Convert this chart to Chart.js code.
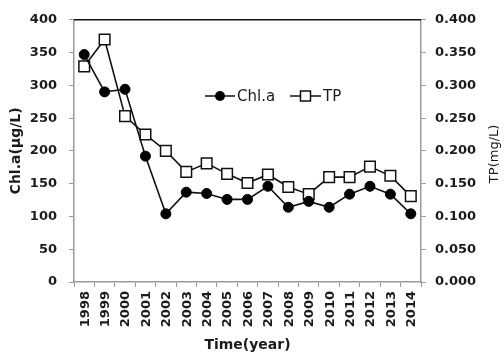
<!DOCTYPE html>
<html>
<head>
<meta charset="utf-8">
<script src="https://cdn.jsdelivr.net/npm/chart.js@4/dist/chart.umd.min.js"></script>
<style>
  body { margin: 0; background: #fff; }
  canvas { display: block; }
</style>
</head>
<body>
<canvas id="chart" width="504" height="356"></canvas>
<script>
// data
const years = ['1998', '1999', '2000', '2001', '2002', '2003', '2004', '2005', '2006',
  '2007', '2008', '2009', '2010', '2011', '2012', '2013', '2014'];
const chla = [347, 290, 294, 192, 104, 137, 135, 126, 126, 146, 114, 123, 114, 134, 146, 134, 104];
const tp = [0.329, 0.370, 0.253, 0.225, 0.200, 0.168, 0.181, 0.165, 0.151, 0.164, 0.145, 0.134,
  0.160, 0.160, 0.176, 0.162, 0.131];
const chlaTicks = [0, 50, 100, 150, 200, 250, 300, 350, 400];
const tpTicks = [0, 0.05, 0.1, 0.15, 0.2, 0.25, 0.3, 0.35, 0.4];

const FONT = '"DejaVu Sans", Verdana, sans-serif';
const TEXT = '#1b1b1b';
const AXIS = '#9a9a9a';

// top border, upright x labels (read upward), right axis title and the inline legend
const boxAndLegend = {
  id: 'boxAndLegend',
  afterDraw(chart) {
    const { ctx, chartArea } = chart;
    const xs = chart.scales.x;
    ctx.save();
    ctx.strokeStyle = '#111';
    ctx.lineWidth = 1.5;
    ctx.beginPath();
    ctx.moveTo(chartArea.left, chartArea.top);
    ctx.lineTo(chartArea.right, chartArea.top);
    ctx.stroke();

    // x tick labels, rotated to read bottom-to-top
    ctx.fillStyle = TEXT;
    ctx.font = 'bold 13px ' + FONT;
    ctx.textAlign = 'right';
    ctx.textBaseline = 'middle';
    years.forEach((yr, i) => {
      ctx.save();
      ctx.translate(xs.getPixelForTick(i) + 1, chartArea.bottom + 9);
      ctx.rotate(-Math.PI / 2);
      ctx.fillText(yr, 0, 0);
      ctx.restore();
    });

    // right axis title
    ctx.save();
    ctx.translate(495, (chartArea.top + chartArea.bottom) / 2 + 3);
    ctx.rotate(-Math.PI / 2);
    ctx.font = '13px ' + FONT;
    ctx.textAlign = 'center';
    ctx.fillText('TP(mg/L)', 0, 0);
    ctx.restore();

    const y = 96;
    ctx.lineWidth = 1.5;
    ctx.strokeStyle = '#111';
    // Chl.a
    ctx.beginPath();
    ctx.moveTo(205, y); ctx.lineTo(235, y);
    ctx.stroke();
    ctx.fillStyle = '#000';
    ctx.beginPath();
    ctx.arc(220, y, 5, 0, Math.PI * 2);
    ctx.fill();
    // TP
    ctx.beginPath();
    ctx.moveTo(290, y); ctx.lineTo(321, y);
    ctx.stroke();
    ctx.fillStyle = '#fff';
    ctx.fillRect(300.5, y - 5, 10, 10);
    ctx.strokeRect(300.5, y - 5, 10, 10);

    ctx.fillStyle = TEXT;
    ctx.font = '15px ' + FONT;
    ctx.textAlign = 'left';
    ctx.textBaseline = 'middle';
    ctx.fillText('Chl.a', 237, y + 1);
    ctx.fillText('TP', 323, y + 1);
    ctx.restore();
  }
};

new Chart(document.getElementById('chart'), {
  type: 'line',
  data: {
    labels: years,
    datasets: [
      {
        label: 'Chl.a',
        data: chla,
        yAxisID: 'y',
        borderColor: '#111',
        borderWidth: 1.6,
        backgroundColor: '#000',
        pointStyle: 'circle',
        pointRadius: 5,
        pointBorderWidth: 1,
        pointBackgroundColor: '#000',
        pointBorderColor: '#000',
        tension: 0
      },
      {
        label: 'TP',
        data: tp,
        yAxisID: 'y1',
        borderColor: '#111',
        borderWidth: 1.6,
        backgroundColor: '#fff',
        pointStyle: 'rect',
        pointRadius: 7.5,
        pointBorderWidth: 1.5,
        pointBackgroundColor: '#fff',
        pointBorderColor: '#111',
        tension: 0
      }
    ]
  },
  options: {
    responsive: false,
    animation: false,
    layout: { padding: { top: 17, right: 0, bottom: 0, left: 0 } },
    plugins: {
      legend: { display: false },
      tooltip: { enabled: false }
    },
    scales: {
      x: {
        offset: true,
        grid: { offset: true, drawOnChartArea: false, drawTicks: true, tickLength: 5, color: AXIS },
        border: { color: AXIS, width: 1.5 },
        ticks: { display: false },
        title: {
          display: true, text: 'Time(year)', color: TEXT,
          font: { family: FONT, size: 14, weight: 'bold' }, padding: { top: 0, bottom: 2 }
        },
        afterFit(scale) { scale.height = 74; }
      },
      y: {
        position: 'left',
        min: 0, max: 400,
        afterBuildTicks(scale) { scale.ticks = chlaTicks.map(v => ({ value: v })); },
        grid: { drawOnChartArea: false, tickLength: 5, color: AXIS },
        border: { color: AXIS, width: 1.5 },
        ticks: {
          padding: 12, color: TEXT,
          font: { family: FONT, size: 13, weight: 'bold' }
        },
        title: {
          display: true, text: 'Chl.a(μg/L)', color: TEXT,
          font: { family: FONT, size: 14, weight: 'bold' }, padding: { top: 8, bottom: 0 }
        },
        afterFit(scale) { scale.width = 74; }
      },
      y1: {
        position: 'right',
        min: 0, max: 0.4,
        afterBuildTicks(scale) { scale.ticks = tpTicks.map(v => ({ value: v })); },
        grid: { drawOnChartArea: false, tickLength: 5, color: AXIS },
        border: { color: AXIS, width: 1.5 },
        ticks: {
          padding: 9, color: TEXT,
          font: { family: FONT, size: 13, weight: 'bold' },
          callback: v => Number(v).toFixed(3)
        },
        afterFit(scale) { scale.width = 83; }
      }
    }
  },
  plugins: [boxAndLegend]
});
</script>
</body>
</html>
